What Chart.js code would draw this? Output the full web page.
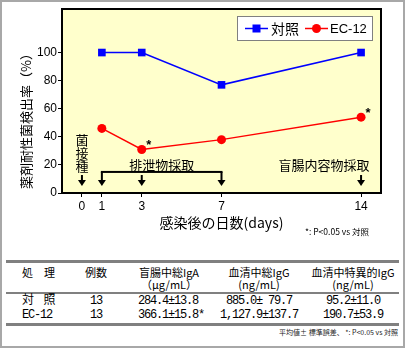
<!DOCTYPE html>
<html>
<head>
<meta charset="utf-8">
<script src="https://cdn.jsdelivr.net/npm/chart.js@4.4.1/dist/chart.umd.min.js"></script>
<style>
  body { margin: 0; background: #fff; }
  #wrap { position: relative; width: 410px; height: 350px; overflow: hidden; background: #fff; }
  #frame { position: absolute; left: 0; top: 0; width: 405px; height: 348px; box-sizing: border-box; border: 2px solid #a8a8a8; }
  #grafico { position: absolute; left: 0; top: 0; }
  .hr { position: absolute; left: 6px; width: 393px; background: #808080; }
  .cell { position: absolute; white-space: nowrap; font-family: "Noto Sans CJK JP", sans-serif; font-size: 11px; line-height: 14px; color: #000; }
  .c { width: 120px; text-align: center; }
  .num { font-family: "Liberation Mono", "Noto Sans CJK JP", monospace; font-size: 12px; letter-spacing: -1.2px; }
  .note { position: absolute; right: 12px; top: 327px; font-family: "Noto Sans CJK JP", sans-serif; font-size: 7px; line-height: 10px; color: #222; white-space: nowrap; }
</style>
</head>
<body>
<div id="wrap">
  <div id="frame"></div>
  <canvas id="grafico" width="410" height="250"></canvas>
  <div id="tabela"></div>
</div>
<script>
// dados do gráfico
const days = [1, 3, 7, 14];
const controlRate = [100, 100, 77, 100];
const ec12Rate = [46, 31, 38, 54];
const ec12Sig = [false, true, false, true];
const xTicks = [0, 1, 3, 7, 14];
const yTicks = [0, 20, 40, 60, 80, 100];
const seriesNames = ['対照', 'EC-12'];

// dados da tabela
const headRow1 = ['処　理', '例数', '盲腸中総IgA', '血清中総IgG', '血清中特異的IgG'];
const headRow2 = ['', '', '（μg/mL）', '(ng/mL)', '(ng/mL)'];
const groups = ['対　照', 'EC-12'];
const nCases = ['13', '13'];
const cecalIgA = ['284.4±13.8', '366.1±15.8*'];
const serumIgG = ['885.0± 79.7', '1,127.9±137.7'];
const specificIgG = ['95.2±11.0', '190.7±53.9'];

const CJK = '"Noto Sans CJK JP", sans-serif';

function arrow(ctx, px, yTop, yBot) {
  ctx.fillRect(px - 1, yTop, 2, yBot - yTop - 5);
  ctx.beginPath();
  ctx.moveTo(px - 4, yBot - 6);
  ctx.lineTo(px + 4, yBot - 6);
  ctx.lineTo(px, yBot);
  ctx.closePath();
  ctx.fill();
}

const decor = {
  id: 'decor',
  beforeDraw(chart) {
    const { ctx, chartArea: a } = chart;
    ctx.save();
    ctx.fillStyle = '#ffffcc';
    ctx.fillRect(a.left, a.top, a.width, a.height);
    ctx.restore();
  },
  afterDraw(chart) {
    const { ctx, chartArea: a, scales: { x, y } } = chart;
    ctx.save();
    ctx.strokeStyle = '#000';
    ctx.lineWidth = 2;
    ctx.strokeRect(a.left, a.top, a.width, a.height);

    // setas e colchete
    ctx.fillStyle = '#000';
    const lineY = y.getPixelForValue(15);
    const startY = y.getPixelForValue(12.8);
    const endY = y.getPixelForValue(5);
    ctx.fillRect(x.getPixelForValue(1) - 1, lineY - 1, x.getPixelForValue(7) - x.getPixelForValue(1) + 2, 2);
    arrow(ctx, x.getPixelForValue(0), startY, endY);
    arrow(ctx, x.getPixelForValue(1), lineY, endY);
    arrow(ctx, x.getPixelForValue(3), startY, endY);
    arrow(ctx, x.getPixelForValue(7), lineY, endY);
    arrow(ctx, x.getPixelForValue(14), startY, endY);

    // textos dentro do gráfico
    ctx.font = '13px ' + CJK;
    ctx.textAlign = 'center';
    ctx.textBaseline = 'middle';
    ['菌', '接', '種'].forEach((ch, i) => {
      ctx.fillText(ch, x.getPixelForValue(0), y.getPixelForValue(37.7 - i * 9.2));
    });
    ctx.fillText('排泄物採取', x.getPixelForValue(3) + 20, y.getPixelForValue(20));
    ctx.fillText('盲腸内容物採取', x.getPixelForValue(14) - 37, y.getPixelForValue(20));

    // asteriscos
    ctx.font = 'bold 13px "Liberation Sans", sans-serif';
    const meta = chart.getDatasetMeta(1);
    meta.data.forEach((pt, i) => {
      if (ec12Sig[i]) ctx.fillText('*', pt.x + 7, pt.y - 4);
    });

    // título do eixo y
    ctx.save();
    ctx.translate(26, 118);
    ctx.rotate(-Math.PI / 2);
    ctx.font = '13px ' + CJK;
    ctx.fillText('薬剤耐性菌検出率（%）', 0, 0);
    ctx.restore();

    // título do eixo x
    ctx.font = '14px ' + CJK;
    ctx.fillText('感染後の日数(days)', (a.left + a.right) / 2, 223);

    ctx.font = '8.5px ' + CJK;
    ctx.textAlign = 'left';
    ctx.fillText('*: P<0.05 vs 対照', 305, 232);

    // legenda
    ctx.fillStyle = '#fff';
    ctx.fillRect(237, 16, 135, 24);
    ctx.strokeStyle = '#808080';
    ctx.lineWidth = 1;
    ctx.strokeRect(237.5, 16.5, 135, 24);
    const items = [
      { x0: 245, ds: 0, tx: 271 },
      { x0: 305, ds: 1, tx: 330 }
    ];
    items.forEach((it, k) => {
      const ds = chart.data.datasets[it.ds];
      ctx.strokeStyle = ds.borderColor;
      ctx.fillStyle = ds.borderColor;
      ctx.lineWidth = 1.5;
      ctx.beginPath();
      ctx.moveTo(it.x0, 28.5);
      ctx.lineTo(it.x0 + 23, 28.5);
      ctx.stroke();
      const cx = it.x0 + 11.5;
      if (ds.pointStyle === 'rect') {
        ctx.fillRect(cx - 4, 24.5, 8, 8);
      } else {
        ctx.beginPath();
        ctx.arc(cx, 28.5, 4.5, 0, Math.PI * 2);
        ctx.fill();
      }
      ctx.fillStyle = '#000';
      ctx.font = k === 0 ? '14px ' + CJK : '13px "Liberation Sans", sans-serif';
      ctx.textAlign = 'left';
      ctx.fillText(seriesNames[k], it.tx, 29);
    });
    ctx.restore();
  }
};

const ctx = document.getElementById('grafico').getContext('2d');
const chart = new Chart(ctx, {
  type: 'line',
  data: {
    datasets: [
      {
        label: seriesNames[0],
        data: days.map((d, i) => ({ x: d, y: controlRate[i] })),
        borderColor: '#0000ff',
        backgroundColor: '#0000ff',
        borderWidth: 1.5,
        pointStyle: 'rect',
        pointRadius: 5.4,
        pointBorderWidth: 0
      },
      {
        label: seriesNames[1],
        data: days.map((d, i) => ({ x: d, y: ec12Rate[i] })),
        borderColor: '#ff0000',
        backgroundColor: '#ff0000',
        borderWidth: 1.5,
        pointStyle: 'circle',
        pointRadius: 4.5,
        pointBorderWidth: 0
      }
    ]
  },
  options: {
    responsive: false,
    animation: false,
    devicePixelRatio: 1,
    layout: { padding: { left: 0, right: 29, top: 9, bottom: 0 } },
    plugins: { legend: { display: false }, tooltip: { enabled: false } },
    scales: {
      x: {
        type: 'linear',
        min: -1,
        max: 15,
        afterBuildTicks: s => { s.ticks = xTicks.map(v => ({ value: v })); },
        afterFit: s => { s.height = 57; },
        border: { display: false },
        grid: { drawOnChartArea: false, tickLength: 4, color: '#000' },
        ticks: { color: '#000', padding: 2, maxRotation: 0, autoSkip: false, font: { family: 'Liberation Sans', size: 12 } }
      },
      y: {
        min: 0,
        max: 131,
        afterBuildTicks: s => { s.ticks = yTicks.map(v => ({ value: v })); },
        afterFit: s => { s.width = 62; },
        border: { display: false },
        grid: { drawOnChartArea: false, tickLength: 4, color: '#000' },
        ticks: { color: '#000', padding: 1, font: { family: 'Liberation Sans', size: 12 } }
      }
    }
  },
  plugins: [decor]
});

// tabela
const tabela = document.getElementById('tabela');
function add(text, cls, left, top) {
  const d = document.createElement('div');
  d.className = cls;
  d.style.left = left + 'px';
  d.style.top = top + 'px';
  d.textContent = text;
  tabela.appendChild(d);
}
[[260, 3], [292, 2], [323, 3]].forEach(([t, h]) => {
  const d = document.createElement('div');
  d.className = 'hr';
  d.style.top = t + 'px';
  d.style.height = h + 'px';
  tabela.appendChild(d);
});
const colCenter = [0, 96, 169, 259, 353];
headRow1.forEach((t, i) => {
  if (i === 0) add(t, 'cell', 22, 265);
  else add(t, 'cell c', colCenter[i] - 60, 265);
});
headRow2.forEach((t, i) => {
  if (t) add(t, 'cell c', colCenter[i] - 60, 277);
});
const rowTop = [294, 308];
groups.forEach((g, r) => {
  add(g, 'cell num', 22, rowTop[r]);
  add(nCases[r], 'cell c num', colCenter[1] - 60, rowTop[r]);
  add(cecalIgA[r], 'cell num', 138, rowTop[r]);
  add(serumIgG[r], 'cell c num', colCenter[3] - 60, rowTop[r]);
  add(specificIgG[r], 'cell c num', colCenter[4] - 60, rowTop[r]);
});
const note = document.createElement('div');
note.className = 'note';
note.textContent = '平均値± 標準誤差、 *: P<0.05 vs 対照';
tabela.appendChild(note);
</script>
</body>
</html>
